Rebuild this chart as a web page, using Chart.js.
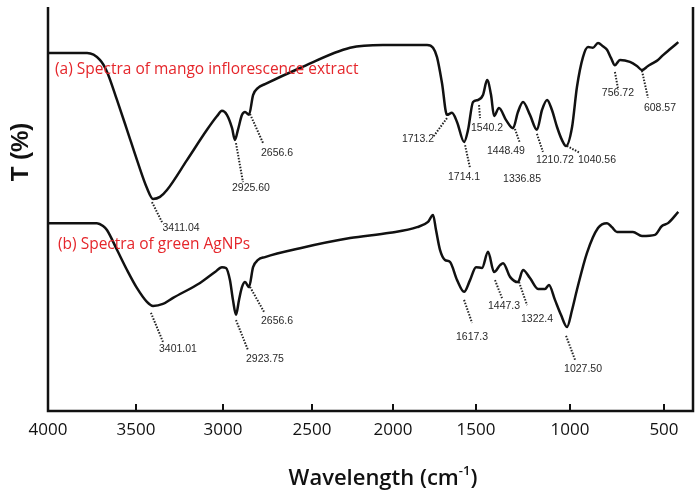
<!DOCTYPE html>
<html>
<head>
<meta charset="utf-8">
<script src="https://cdn.jsdelivr.net/npm/chart.js@4.4.1/dist/chart.umd.min.js"></script>
<style>
    html, body { margin: 0; padding: 0; background: #fff; }
    #wrap { width: 700px; height: 495px; }
</style>
</head>
<body>
<div id="wrap"><canvas id="ftir" width="700" height="495"></canvas></div>
<script>
// Spectrum (a): mango inflorescence extract
const wavenumbersA = [4000, 3778, 3705, 3665, 3608, 3551, 3494, 3437, 3402, 3362, 3322, 3207, 3092, 3034, 3006, 2978, 2949, 2933, 2916, 2893, 2876, 2854, 2831, 2803, 2764, 2567, 2265, 2062, 1898, 1795, 1759, 1735, 1705, 1675, 1645, 1614, 1572, 1548, 1518, 1489, 1463, 1441, 1420, 1404, 1378, 1340, 1303, 1277, 1250, 1213, 1176, 1149, 1122, 1096, 1069, 1043, 1021, 989, 963, 931, 904, 878, 851, 825, 803, 782, 761, 734, 681, 644, 617, 585, 559, 532, 505, 468, 426];
const transmittanceA = [88.6, 88.6, 86.9, 84.0, 77.0, 69.6, 62.1, 55.2, 52.5, 53.0, 54.7, 62.1, 69.6, 73.0, 74.3, 73.3, 70.0, 67.1, 69.6, 73.3, 74.0, 73.3, 78.2, 80.0, 80.9, 84.9, 89.9, 90.6, 90.6, 90.6, 89.9, 87.6, 81.2, 73.3, 73.8, 71.5, 66.6, 69.6, 76.5, 77.0, 78.2, 81.9, 78.2, 73.0, 75.0, 72.0, 70.0, 74.0, 76.5, 73.3, 69.6, 74.5, 77.0, 74.5, 70.3, 67.1, 65.6, 70.3, 80.2, 87.6, 90.1, 89.9, 91.1, 90.3, 89.4, 87.4, 85.6, 86.9, 86.4, 85.4, 84.4, 85.4, 86.1, 86.9, 88.1, 89.6, 91.3];

// Spectrum (b): green AgNPs
const wavenumbersB = [4000, 3722, 3687, 3665, 3608, 3551, 3494, 3437, 3402, 3345, 3287, 3132, 3046, 3006, 2983, 2961, 2944, 2927, 2910, 2893, 2876, 2854, 2831, 2803, 2764, 2567, 2265, 2019, 1855, 1789, 1759, 1741, 1717, 1687, 1657, 1614, 1572, 1536, 1500, 1468, 1436, 1404, 1372, 1356, 1319, 1277, 1250, 1213, 1170, 1133, 1112, 1080, 1048, 1016, 989, 963, 910, 851, 803, 777, 750, 665, 617, 548, 511, 479, 426];
const transmittanceB = [46.5, 46.5, 45.8, 44.8, 39.9, 34.9, 30.4, 27.0, 26.0, 26.5, 28.0, 31.7, 34.4, 35.6, 35.4, 32.4, 27.5, 23.8, 27.5, 30.7, 31.9, 30.7, 35.6, 37.4, 38.1, 40.3, 42.8, 44.1, 45.5, 46.8, 48.5, 44.8, 39.9, 37.4, 36.9, 32.4, 29.5, 32.4, 35.6, 35.4, 39.4, 34.4, 36.1, 36.6, 33.2, 31.9, 34.9, 32.9, 30.2, 30.2, 31.2, 27.5, 23.8, 20.8, 25.0, 30.0, 39.1, 45.3, 46.5, 45.5, 44.3, 44.3, 43.3, 43.6, 45.8, 46.5, 49.3];

// Axis ticks (the printed axis is not evenly spaced)
const tickValues = [4000, 3500, 3000, 2500, 2000, 1500, 1000, 500];
const warpKnots = [4000, 3500, 3000, 2500, 2000, 1500, 1000, 500, 350];
const warpFractions = [0, 0.1364, 0.2713, 0.4093, 0.5349, 0.6636, 0.8093, 0.9550, 1];

// Peak labels: text, wavenumber and T where the leader starts
const peakLabels = ['3411.04', '2925.60', '2656.6', '1713.2', '1714.1', '1540.2', '1448.49', '1336.85', '1210.72', '1040.56', '756.72', '608.57',
                    '3401.01', '2923.75', '2656.6', '1617.3', '1447.3', '1322.4', '1027.50'];
const peakWavenumbers = [3408, 2927, 2848, 1675, 1566, 1484, 1293, 1255, 1176, 1016, 761, 617,
                         3414, 2927, 2848, 1572, 1399, 1271, 1021];
const peakTransmittance = [51.7, 66.3, 73.5, 72.5, 65.8, 75.7, 69.8, 57.4, 68.6, 65.6, 83.9, 84.2,
                           24.3, 22.5, 30.7, 27.5, 32.4, 31.9, 18.6];

// leader end (dx, dy) and label centre (lx, ly), in px from the leader start
const noteLayout = [
    [10, 20, 29, 26], [7, 39, 15, 45], [13, 29, 27, 39], [-14, 19, -29, 21], [5, 23, -1, 32], [1, 13, 8, 23],
    [5, 14, -9, 22], [0, 0, 0, 0], [6, 18, 18, 26], [13, 7, 30, 14], [3, 16, 3, 21], [6, 27, 18, 37],
    [12, 29, 27, 36], [12, 30, 29, 39], [14, 25, 27, 34], [8, 23, 8, 37], [7, 18, 9, 26], [8, 23, 18, 37], [9, 24, 17, 33]
];

function warpFraction(v) {
    for (let i = 0; i < warpKnots.length - 1; i++) {
        const a = warpKnots[i], b = warpKnots[i + 1];
        if (v <= a && v >= b) {
            return warpFractions[i] + (a - v) / (a - b) * (warpFractions[i + 1] - warpFractions[i]);
        }
    }
    return v > warpKnots[0] ? 0 : 1;
}

class WarpScale extends Chart.LinearScale {
    getPixelForValue(value) {
        if (value === null || value === undefined || isNaN(value)) return NaN;
        return this.getPixelForDecimal(1 - warpFraction(value));
    }
}
WarpScale.id = 'warp';
WarpScale.defaults = Chart.LinearScale.defaults;
Chart.register(WarpScale);

const framePlugin = {
    id: 'frame',
    afterDraw(chart) {
        const ctx = chart.ctx;
        const { left, right, top, bottom } = chart.chartArea;
        const xs = chart.scales.x, ys = chart.scales.y;
        ctx.save();

        // box: left, bottom, right
        ctx.strokeStyle = '#111';
        ctx.lineWidth = 2.5;
        ctx.beginPath();
        ctx.moveTo(left, top);
        ctx.lineTo(left, bottom);
        ctx.lineTo(right, bottom);
        ctx.lineTo(right, top);
        ctx.stroke();

        // inward tick marks
        ctx.lineWidth = 2;
        tickValues.forEach(v => {
            const x = xs.getPixelForValue(v);
            ctx.beginPath();
            ctx.moveTo(x, bottom);
            ctx.lineTo(x, bottom - 7);
            ctx.stroke();
        });

        // axis titles
        ctx.fillStyle = '#111';
        ctx.font = 'bold 24px "Liberation Sans", Arial, sans-serif';
        ctx.textAlign = 'center';
        ctx.textBaseline = 'middle';
        ctx.save();
        ctx.translate(21, 152);
        ctx.rotate(-Math.PI / 2);
        ctx.fillText('T (%)', 0, 0);
        ctx.restore();

        const main = 'Wavelength (cm';
        const sup = '-1';
        ctx.font = '600 22px "Open Sans", sans-serif';
        const w1 = ctx.measureText(main).width;
        const w3 = ctx.measureText(')').width;
        ctx.font = '600 13px "Open Sans", sans-serif';
        const w2 = ctx.measureText(sup).width;
        let x0 = 383 - (w1 + w2 + w3) / 2;
        ctx.textAlign = 'left';
        ctx.textBaseline = 'alphabetic';
        ctx.font = '600 22px "Open Sans", sans-serif';
        ctx.fillText(main, x0, 485);
        ctx.font = '600 13px "Open Sans", sans-serif';
        ctx.fillText(sup, x0 + w1, 475);
        ctx.font = '600 22px "Open Sans", sans-serif';
        ctx.fillText(')', x0 + w1 + w2, 485);

        // series captions
        ctx.fillStyle = '#e5262b';
        ctx.font = '15.5px "Open Sans", sans-serif';
        ctx.textBaseline = 'middle';
        ctx.fillText('(a) Spectra of mango inflorescence extract', left + 7, 70);
        ctx.fillText('(b) Spectra of green AgNPs', left + 10, 245);

        // peak annotations
        ctx.font = '10.5px "Liberation Sans", Arial, sans-serif';
        ctx.textAlign = 'center';
        peakLabels.forEach((label, i) => {
            const sx = xs.getPixelForValue(peakWavenumbers[i]);
            const sy = ys.getPixelForValue(peakTransmittance[i]);
            const [dx, dy, lx, ly] = noteLayout[i];
            if (dx || dy) {
                ctx.strokeStyle = '#222';
                ctx.lineWidth = 2;
                ctx.setLineDash([1.5, 1.5]);
                ctx.beginPath();
                ctx.moveTo(sx, sy);
                ctx.lineTo(sx + dx, sy + dy);
                ctx.stroke();
                ctx.setLineDash([]);
            }
            ctx.fillStyle = '#2a2a2a';
            ctx.fillText(label, sx + lx, sy + ly);
        });
        ctx.restore();
    }
};

function toPoints(xs, ys) {
    return xs.map((x, i) => ({ x: x, y: ys[i] }));
}

new Chart(document.getElementById('ftir'), {
    type: 'line',
    data: {
        datasets: [
            {
                label: 'Spectra of mango inflorescence extract',
                data: toPoints(wavenumbersA, transmittanceA),
                borderColor: '#111',
                borderWidth: 2.5,
                pointRadius: 0,
                cubicInterpolationMode: 'monotone',
                fill: false
            },
            {
                label: 'Spectra of green AgNPs',
                data: toPoints(wavenumbersB, transmittanceB),
                borderColor: '#111',
                borderWidth: 2.5,
                pointRadius: 0,
                cubicInterpolationMode: 'monotone',
                fill: false
            }
        ]
    },
    options: {
        responsive: false,
        animation: false,
        events: [],
        layout: { padding: { left: 48, right: 7, top: 7, bottom: 54 } },
        plugins: {
            legend: { display: false },
            tooltip: { enabled: false }
        },
        scales: {
            x: {
                type: 'warp',
                min: 350,
                max: 4000,
                reverse: true,
                afterBuildTicks: scale => { scale.ticks = tickValues.map(v => ({ value: v })); },
                afterFit: scale => { scale.height = 30; },
                grid: { display: false, drawTicks: false, tickLength: 0 },
                border: { display: false },
                ticks: {
                    autoSkip: false,
                    maxRotation: 0,
                    padding: 9,
                    color: '#111',
                    font: { family: '"Open Sans", sans-serif', size: 17 },
                    callback: v => String(v)
                }
            },
            y: {
                display: false,
                min: 0,
                max: 100
            }
        }
    },
    plugins: [framePlugin]
});
</script>
</body>
</html>
